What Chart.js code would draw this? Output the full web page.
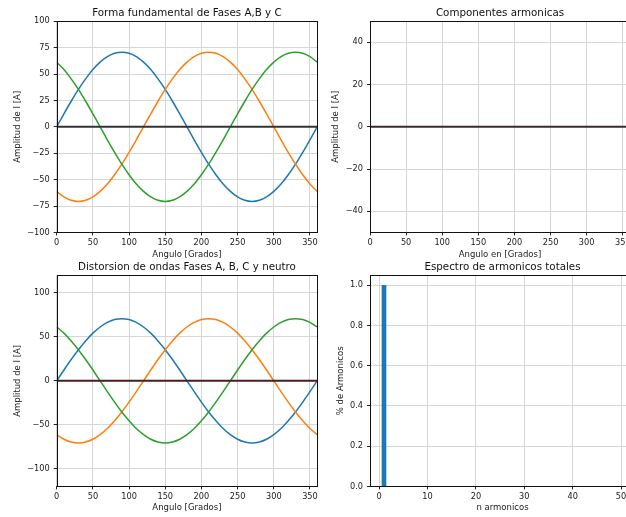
<!DOCTYPE html>
<html>
<head>
<meta charset="utf-8">
<script src="https://cdn.jsdelivr.net/npm/chart.js@4.4.1/dist/chart.umd.min.js"></script>
<style>
html,body{margin:0;padding:0;background:#fff;overflow:hidden;width:626px;height:517px;position:relative}
canvas{position:absolute}
</style>
</head>
<body>
<canvas id="fund" width="340" height="262" style="left:0;top:0"></canvas>
<canvas id="comp" width="330" height="262" style="left:320px;top:0"></canvas>
<canvas id="dist" width="340" height="262" style="left:0;top:255px"></canvas>
<canvas id="espec" width="340" height="262" style="left:320px;top:255px"></canvas>
<script>
// angulo en grados y corrientes por fase
const angulo=[0,10,20,30,40,50,60,70,80,90,100,110,120,130,140,150,160,170,180,190,200,210,220,230,240,250,260,270,280,290,300,310,320,330,340,350,360];
const faseA=[0,12.3,24.2,35.4,45.4,54.2,61.2,66.4,69.6,70.7,69.6,66.4,61.2,54.2,45.4,35.4,24.2,12.3,0,-12.3,-24.2,-35.4,-45.4,-54.2,-61.2,-66.4,-69.6,-70.7,-69.6,-66.4,-61.2,-54.2,-45.4,-35.4,-24.2,-12.3,0];
const faseB=[-61.2,-66.4,-69.6,-70.7,-69.6,-66.4,-61.2,-54.2,-45.4,-35.4,-24.2,-12.3,0,12.3,24.2,35.4,45.4,54.2,61.2,66.4,69.6,70.7,69.6,66.4,61.2,54.2,45.4,35.4,24.2,12.3,0,-12.3,-24.2,-35.4,-45.4,-54.2,-61.2];
const faseC=[61.2,54.2,45.4,35.4,24.2,12.3,0,-12.3,-24.2,-35.4,-45.4,-54.2,-61.2,-66.4,-69.6,-70.7,-69.6,-66.4,-61.2,-54.2,-45.4,-35.4,-24.2,-12.3,0,12.3,24.2,35.4,45.4,54.2,61.2,66.4,69.6,70.7,69.6,66.4,61.2];
const neutroX=[0,360];
const neutroY=[0,0];
const armonicaX=[0,360];
const armonicaY=[0,0];
const nArmonicos=[1,2,3,4,5,6,7,8,9,10,11,12,13,14,15,16,17,18,19,20,21,22,23,24,25,26,27,28,29,30,31,32,33,34,35,36,37,38,39,40,41,42,43,44,45,46,47,48,49,50];
const pctArmonicos=[1,0,0,0,0,0,0,0,0,0,0,0,0,0,0,0,0,0,0,0,0,0,0,0,0,0,0,0,0,0,0,0,0,0,0,0,0,0,0,0,0,0,0,0,0,0,0,0,0,0];
const ticksAngulo=[0,50,100,150,200,250,300,350];
const ticksFund=[-100,-75,-50,-25,0,25,50,75,100];
const ticksComp=[-40,-20,0,20,40];
const ticksDist=[-100,-50,0,50,100];
const ticksN=[0,10,20,30,40,50];
const ticksPct=[0,0.2,0.4,0.6,0.8,1.0];

Chart.defaults.font.family='DejaVu Sans';
Chart.defaults.color='#1a1a1a';
Chart.defaults.animation=false;

const menos=v=>String(v).replace('-','\u2212');
const pts=(xs,ys)=>xs.map((x,i)=>({x,y:ys[i]}));

// marco negro alrededor del area (spines de matplotlib)
const marco={id:'marco',afterDatasetsDraw(ch){const a=ch.chartArea,c=ch.ctx;c.save();c.strokeStyle='#111';c.lineWidth=1;
  c.strokeRect(Math.round(a.left)+0.5,Math.round(a.top)+0.5,Math.round(a.right)-Math.round(a.left),Math.round(a.bottom)-Math.round(a.top));c.restore();}};

function eje(min,max,ticks,title,fmt,fit,tpad,lpad){
  return {type:'linear',min,max,
    afterBuildTicks:s=>{s.ticks=ticks.map(v=>({value:v}));},
    afterFit:fit,
    grid:{color:'#d6d6d6',lineWidth:1,tickColor:'#222',tickLength:3,drawTicks:true,offset:false},
    border:{display:false},
    offset:false,
    ticks:{color:'#1a1a1a',font:{size:8.2},padding:lpad,maxRotation:0,autoSkip:false,callback:fmt},
    title:{display:true,text:title,color:'#1a1a1a',font:{size:8.5},padding:tpad}};
}
function linea(xs,ys,color,w,order){
  return {type:'line',data:pts(xs,ys),borderColor:color,borderWidth:w,pointRadius:0,cubicInterpolationMode:'monotone',fill:false,order};
}
function titulo(text,pt,pb){
  return {display:true,text,fullSize:false,color:'#111',font:{size:10.3,weight:'normal'},padding:{top:pt,bottom:pb}};
}

new Chart(document.getElementById('fund'),{type:'line',
  data:{datasets:[linea(neutroX,neutroY,'#333',2,0),linea(angulo,faseC,'#2ca02c',1.5,1),linea(angulo,faseB,'#ff7f0e',1.5,2),linea(angulo,faseA,'#1f77b4',1.5,3)]},
  options:{responsive:false,layout:{padding:{left:0,top:0,right:22.8,bottom:0}},
    plugins:{legend:{display:false},tooltip:{enabled:false},title:titulo('Forma fundamental de Fases A,B y C',7.1,1.74)},
    scales:{x:eje(0,360,ticksAngulo,'Angulo [Grados]',menos,s=>{s.height=29.6;},{top:0,bottom:2},3),
            y:eje(-100,100,ticksFund,'Amplitud de I [A]',menos,s=>{s.width=56.7;},{top:12.3,bottom:12.3},4)}},
  plugins:[marco]});

new Chart(document.getElementById('comp'),{type:'line',
  data:{datasets:[linea(armonicaX,armonicaY,'#3b2b30',2,0)]},
  options:{responsive:false,layout:{padding:{left:0,top:0,right:20,bottom:0}},
    plugins:{legend:{display:false},tooltip:{enabled:false},title:titulo('Componentes armonicas',7.1,1.74)},
    scales:{x:eje(0,360,ticksAngulo,'Angulo en [Grados]',menos,s=>{s.height=29.6;},{top:0,bottom:2},3),
            y:eje(-50,50,ticksComp,'Amplitud de I [A]',menos,s=>{s.width=50;},{top:11,bottom:11},4)}},
  plugins:[marco]});

new Chart(document.getElementById('dist'),{type:'line',
  data:{datasets:[linea(neutroX,neutroY,'#4a1e1e',2,0),linea(angulo,faseC,'#2ca02c',1.5,1),linea(angulo,faseB,'#ff7f0e',1.5,2),linea(angulo,faseA,'#1f77b4',1.5,3)]},
  options:{responsive:false,layout:{padding:{left:0,top:0,right:22.8,bottom:0}},
    plugins:{legend:{display:false},tooltip:{enabled:false},title:titulo('Distorsion de ondas Fases A, B, C y neutro',5.8,2.1)},
    scales:{x:eje(0,360,ticksAngulo,'Angulo [Grados]',menos,s=>{s.height=30.6;},{top:0,bottom:4},3),
            y:eje(-120,120,ticksDist,'Amplitud de I [A]',menos,s=>{s.width=56.7;},{top:12.3,bottom:12.3},4)}},
  plugins:[marco]});

new Chart(document.getElementById('espec'),{type:'bar',
  data:{datasets:[{data:pts(nArmonicos,pctArmonicos),backgroundColor:'#1f77b4',borderWidth:0,barThickness:4}]},
  options:{responsive:false,layout:{padding:{left:0,top:0,right:25,bottom:0}},
    plugins:{legend:{display:false},tooltip:{enabled:false},title:titulo('Espectro de armonicos totales',5.8,2.1)},
    scales:{x:eje(-1.89,52.89,ticksN,'n armonicos',v=>String(v),s=>{s.height=30.6;},{top:0,bottom:4},3),
            y:eje(0,1.05,ticksPct,'% de Armonicos',v=>v.toFixed(1),s=>{s.width=50;},{top:15.7,bottom:15.7},4)}},
  plugins:[marco]});
</script>
</body>
</html>
